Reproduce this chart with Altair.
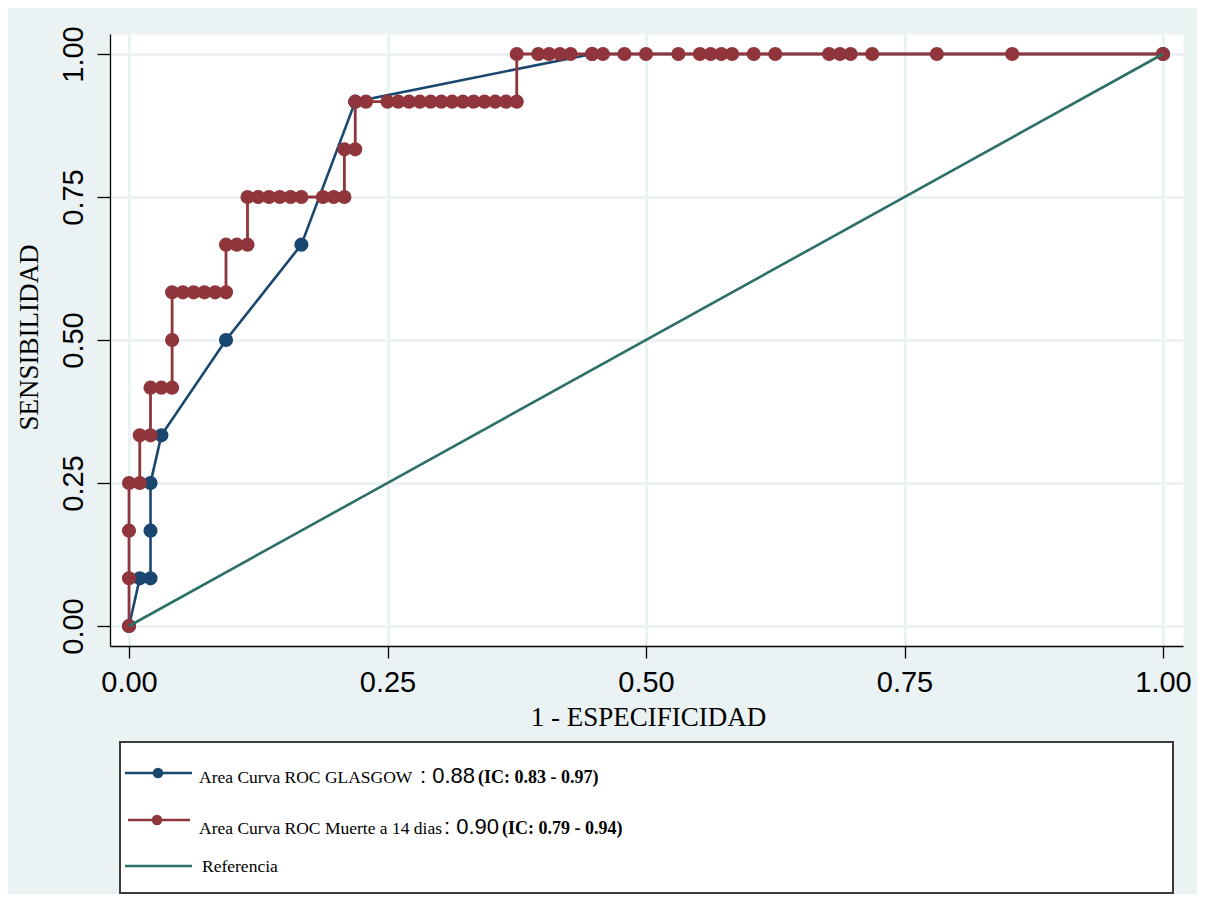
import altair as alt
import pandas as pd

# ---- data -----------------------------------------------------------------
# ROC "Muerte a 14 dias" (red, step curve): 1-especificidad, sensibilidad
red_fpr = [0, 0, 0, 0, 0.0104, 0.0104, 0.0208, 0.0208, 0.0313, 0.0417,
           0.0417, 0.0417, 0.0521, 0.0625, 0.0729, 0.0833, 0.0938, 0.0938,
           0.1042, 0.1146, 0.1146, 0.125, 0.1354, 0.1458, 0.1563, 0.1667,
           0.1875, 0.1979, 0.2083, 0.2083, 0.2188, 0.2188, 0.2292, 0.25,
           0.2604, 0.2708, 0.2813, 0.2917, 0.3021, 0.3125, 0.3229, 0.3333,
           0.3438, 0.3542, 0.3646, 0.375, 0.375, 0.3958, 0.4063, 0.4167,
           0.4271, 0.4479, 0.4583, 0.4792, 0.5, 0.5313, 0.5521, 0.5625,
           0.5729, 0.5833, 0.6042, 0.625, 0.6771, 0.6875, 0.6979, 0.7188,
           0.7813, 0.8542, 1.0]
red_tpr = [0, 0.0833, 0.1667, 0.25, 0.25, 0.3333, 0.3333, 0.4167, 0.4167, 0.4167,
           0.5, 0.5833, 0.5833, 0.5833, 0.5833, 0.5833, 0.5833, 0.6667,
           0.6667, 0.6667, 0.75, 0.75, 0.75, 0.75, 0.75, 0.75,
           0.75, 0.75, 0.75, 0.8333, 0.8333, 0.9167, 0.9167, 0.9167,
           0.9167, 0.9167, 0.9167, 0.9167, 0.9167, 0.9167, 0.9167, 0.9167,
           0.9167, 0.9167, 0.9167, 0.9167, 1.0, 1.0, 1.0, 1.0,
           1.0, 1.0, 1.0, 1.0, 1.0, 1.0, 1.0, 1.0,
           1.0, 1.0, 1.0, 1.0, 1.0, 1.0, 1.0, 1.0,
           1.0, 1.0, 1.0]

# ROC GLASGOW (blue)
blue_fpr = [0, 0.0104, 0.0208, 0.0208, 0.0208, 0.0313, 0.0938, 0.1667, 0.2188, 0.4479, 1.0]
blue_tpr = [0, 0.0833, 0.0833, 0.1667, 0.25, 0.3333, 0.5, 0.6667, 0.9167, 1.0, 1.0]

# reference diagonal
ref_fpr = [0, 1]
ref_tpr = [0, 1]

x_ticks = [0, 0.25, 0.5, 0.75, 1]
y_ticks = [0, 0.25, 0.5, 0.75, 1]

x_title = "1 - ESPECIFICIDAD"
y_title = "SENSIBILIDAD"

legend_names = ["Area Curva ROC GLASGOW", "Area Curva ROC Muerte a 14 dias", "Referencia"]
legend_auc = [": 0.88", ": 0.90"]
legend_ic = ["(IC: 0.83 - 0.97)", "(IC: 0.79 - 0.94)"]

# ---- styling ----------------------------------------------------------------
BLUE = "#1A476F"
RED = "#90353B"
GREEN = "#2D7067"
BG = "#EAF2F3"
W, H = 1073, 612


def curve_df(fx, ty):
    return pd.DataFrame({"fpr": fx, "tpr": ty, "ord": list(range(len(fx)))})


x_axis = alt.Axis(values=x_ticks, format=".2f", title=x_title, grid=True,
                  gridColor=BG, gridWidth=3, domainColor="black", domainWidth=1.3,
                  tickColor="black", tickSize=12, tickWidth=1.3,
                  labelFont="Liberation Sans", labelFontSize=29, labelColor="black",
                  labelPadding=10, labelFlush=False, labelOverlap=False,
                  titleFont="Liberation Serif", titleFontSize=27, titleFontWeight="normal",
                  titleColor="black", titleX=538, titleY=79, titleBaseline="alphabetic",
                  titleAlign="center")
y_axis = alt.Axis(values=y_ticks, format=".2f", title=y_title, grid=True,
                  gridColor=BG, gridWidth=3, domainColor="black", domainWidth=1.3,
                  tickColor="black", tickSize=13, tickWidth=1.3,
                  labelFont="Liberation Sans", labelFontSize=29, labelColor="black",
                  labelAngle=270, labelAlign="center", labelBaseline="alphabetic",
                  labelPadding=15, labelFlush=False, labelOverlap=False,
                  titleFont="Liberation Serif", titleFontSize=27, titleFontWeight="normal",
                  titleColor="black", titleAngle=270, titleX=-73, titleY=303,
                  titleBaseline="alphabetic", titleAlign="center")

xs = alt.Scale(domain=[-0.01838, 1.01934], nice=False, zero=False)
ys = alt.Scale(domain=[-0.03497, 1.03497], nice=False, zero=False)
X = alt.X("fpr:Q", scale=xs, axis=x_axis)
Y = alt.Y("tpr:Q", scale=ys, axis=y_axis)

blue_df = curve_df(blue_fpr, blue_tpr)
red_df = curve_df(red_fpr, red_tpr)
ref_df = curve_df(ref_fpr, ref_tpr)

blue_line = alt.Chart(blue_df).mark_line(color=BLUE, strokeWidth=2.6).encode(x=X, y=Y, order="ord:Q")
red_line = alt.Chart(red_df).mark_line(color=RED, strokeWidth=2.8).encode(x=X, y=Y, order="ord:Q")
blue_pts = alt.Chart(blue_df).mark_circle(color=BLUE, size=200, opacity=1).encode(x=X, y=Y)
red_pts = alt.Chart(red_df).mark_circle(color=RED, size=200, opacity=1).encode(x=X, y=Y)
ref_line = alt.Chart(ref_df).mark_line(color=GREEN, strokeWidth=2.6).encode(x=X, y=Y, order="ord:Q")

# ---- legend (drawn below the plot area) --------------------------------------
one = pd.DataFrame({"k": [0]})

box = alt.Chart(one).mark_rect(fill="white", stroke="#3C3C3C", strokeWidth=2).encode(
    x=alt.value(10), x2=alt.value(1063), y=alt.value(708), y2=alt.value(859))


def leg_rule(x1, x2, y, color):
    return alt.Chart(one).mark_rule(color=color, strokeWidth=2.6).encode(
        x=alt.value(x1), x2=alt.value(x2), y=alt.value(y))


def leg_dot(x, y, color):
    return alt.Chart(one).mark_circle(color=color, size=110, opacity=1).encode(
        x=alt.value(x), y=alt.value(y))


def leg_text(txt, x, y, font, size, weight="normal"):
    return alt.Chart(pd.DataFrame({"t": [txt]})).mark_text(
        font=font, fontSize=size, fontWeight=weight, align="left",
        baseline="alphabetic", color="black").encode(
        x=alt.value(x), y=alt.value(y), text="t:N")


legend_layers = [
    box,
    leg_rule(15, 82, 739, BLUE), leg_dot(48, 739, BLUE),
    leg_rule(18, 80, 786, RED), leg_dot(47, 786, RED),
    leg_rule(15, 82, 832, GREEN),
    leg_text(legend_names[0], 89, 749, "Liberation Serif", 17.5),
    leg_text(legend_auc[0], 310, 749, "Liberation Sans", 22),
    leg_text(legend_ic[0], 368, 749, "Liberation Serif", 18, "bold"),
    leg_text(legend_names[1], 89, 800, "Liberation Serif", 17.5),
    leg_text(legend_auc[1], 334, 800, "Liberation Sans", 22),
    leg_text(legend_ic[1], 392, 800, "Liberation Serif", 18, "bold"),
    leg_text(legend_names[2], 92, 838, "Liberation Serif", 17.5),
]

chart = alt.layer(
    blue_line, red_line, blue_pts, red_pts, ref_line, *legend_layers
).properties(
    width=W, height=H,
    autosize=alt.AutoSizeParams(type="none"),
    padding={"left": 102, "top": 26, "right": 14, "bottom": 248},
).configure(
    background=BG
).configure_view(
    fill="white", stroke="transparent"
)

chart.save("out.html", embed_options={"renderer": "svg", "actions": False})
